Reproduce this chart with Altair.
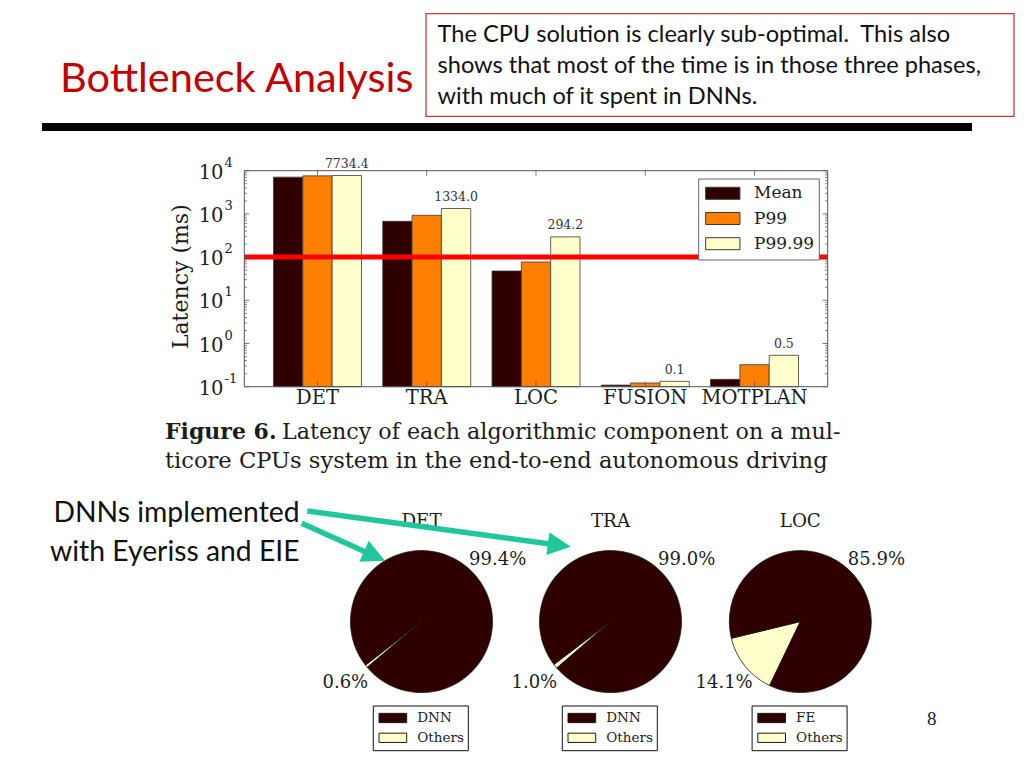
import math
import altair as alt
import pandas as pd

# ------------------------------------------------------------------ data
components = ["DET", "TRA", "LOC", "FUSION", "MOTPLAN"]
series = ["Mean", "P99", "P99.99"]
mean_ms = [7100.0, 674.0, 47.7, 0.109, 0.148]
p99_ms = [7600.0, 929.0, 77.0, 0.122, 0.323]
p9999_ms = [7734.4, 1334.0, 294.2, 0.133, 0.533]
p9999_text = ["7734.4", "1334.0", "294.2", "0.1", "0.5"]
threshold_ms = [100.0]
decade_exponents = [4, 3, 2, 1, 0, -1]
minor_multipliers = [2, 3, 4, 5, 6, 7, 8, 9]
minor_exponents = [-1, 0, 1, 2, 3]

pie_titles = ["DET", "TRA", "LOC"]
pie_main_names = ["DNN", "DNN", "FE"]
pie_main_pct = [99.4, 99.0, 85.9]
pie_other_pct = [0.6, 1.0, 14.1]
pie_other_name = "Others"

slide_title = "Bottleneck Analysis"
box_lines = [
    "The CPU solution is clearly sub-optimal.\u00a0 This also",
    "shows that most of the time is in those three phases,",
    "with much of it spent in DNNs.",
]
note_lines = ["DNNs implemented", "with Eyeriss and EIE"]
caption_bold = "Figure 6."
caption_rest = "Latency of each algorithmic component on a mul-"
caption_line2 = "ticore CPUs system in the end-to-end autonomous driving"
y_title = "Latency (ms)"
page_number = "8"

# ------------------------------------------------------------------ styles / layout
DARK = "#2E0000"
ORANGE = "#FF8000"
PALE = "#FFFFCC"
RED = "#FF0000"
GREEN = "#1FC79A"
INK = "#1c1c1c"
SERIF = "DejaVu Serif"
CAPSERIF = "DejaVu Serif"
SANS = "Lato"

M = 8  # page margin


def px(v):
    return v - M


PLOT_L, PLOT_R, PLOT_T, PLOT_B = 244.3, 827.7, 170.7, 386.7
PIE_CX = [421.5, 610.5, 800.3]
PIE_CY = 621.6
PIE_R = 71
OTHERS_CENTER_DEG = 231.0

one = pd.DataFrame({"k": [0]})

X_BAND = alt.Scale(type="band", domain=components, range=[px(PLOT_L), px(PLOT_R)],
                   paddingInner=0.195, paddingOuter=0.267)
XOFF = alt.Scale(type="band", domain=series, paddingInner=0, paddingOuter=0)
Y_LOG = alt.Scale(type="log", domain=[0.1, 10000], range=[px(PLOT_B), px(PLOT_T)], nice=False)
SERIES_COLOR = alt.Scale(domain=series, range=[DARK, ORANGE, PALE])


def txt(s, x, y, size, font, color=INK, align="left", baseline="alphabetic",
        weight="normal", angle=None):
    kw = dict(align=align, baseline=baseline, fontSize=size, font=font,
              color=color, fontWeight=weight)
    if angle is not None:
        kw["angle"] = angle
    return alt.Chart(pd.DataFrame({"t": [s]})).mark_text(**kw).encode(
        text="t:N", x=alt.value(px(x)), y=alt.value(px(y)))


layers = []

# ------------------------------------------------------------------ slide header
layers.append(txt(slide_title, 60, 92, 41.5, SANS, color="#C00000"))
layers.append(alt.Chart(one).mark_rect(fillOpacity=0, stroke="#C43B3B", strokeWidth=1.3).encode(
    x=alt.value(px(426)), x2=alt.value(px(1014)), y=alt.value(px(13.7)), y2=alt.value(px(116.3))))
for i, line in enumerate(box_lines):
    layers.append(txt(line, 437.5, 42.3 + 31 * i, 23.6, SANS, color="#111"))
layers.append(alt.Chart(one).mark_rule(color="black", strokeWidth=8).encode(
    x=alt.value(px(42)), x2=alt.value(px(972)), y=alt.value(px(127))))

# ------------------------------------------------------------------ bar chart
rows = []
for c, a, b, d in zip(components, mean_ms, p99_ms, p9999_ms):
    for s, v in zip(series, [a, b, d]):
        rows.append({"component": c, "series": s, "ms": v, "base": 0.1})
bars_df = pd.DataFrame(rows)

layers.append(alt.Chart(bars_df).mark_bar(stroke="#3a3a3a", strokeWidth=0.8).encode(
    x=alt.X("component:N", scale=X_BAND, axis=None),
    xOffset=alt.XOffset("series:N", scale=XOFF),
    y=alt.Y("ms:Q", scale=Y_LOG, axis=None),
    y2="base:Q",
    color=alt.Color("series:N", scale=SERIES_COLOR, legend=None),
))

# value labels on top of P99.99 bars
lab_df = pd.DataFrame({"component": components, "series": ["P99.99"] * 5,
                       "ms": p9999_ms, "t": p9999_text})
layers.append(alt.Chart(lab_df).mark_text(font=SERIF, fontSize=12.5, color="#333",
                                          baseline="middle", dy=-11.5).encode(
    x=alt.X("component:N", scale=X_BAND, axis=None),
    xOffset=alt.XOffset("series:N", scale=XOFF),
    y=alt.Y("ms:Q", scale=Y_LOG, axis=None),
    text="t:N",
))

# red real-time threshold line
layers.append(alt.Chart(pd.DataFrame({"ms": threshold_ms})).mark_rule(color=RED, strokeWidth=5).encode(
    y=alt.Y("ms:Q", scale=Y_LOG, axis=None),
    x=alt.value(px(PLOT_L)), x2=alt.value(px(PLOT_R))))

# axis ticks
maj_df = pd.DataFrame({"v": [10.0 ** e for e in decade_exponents],
                       "e": [str(e) for e in decade_exponents]})
min_df = pd.DataFrame({"v": [m * 10.0 ** e for e in minor_exponents for m in minor_multipliers]})
for x0, x1, d in [(PLOT_L, PLOT_L + 5, maj_df), (PLOT_R - 5, PLOT_R, maj_df),
                  (PLOT_L, PLOT_L + 2.5, min_df), (PLOT_R - 2.5, PLOT_R, min_df)]:
    layers.append(alt.Chart(d).mark_rule(color="#555", strokeWidth=0.8).encode(
        y=alt.Y("v:Q", scale=Y_LOG, axis=None), x=alt.value(px(x0)), x2=alt.value(px(x1))))
cat_df = pd.DataFrame({"component": components})
for y0, y1 in [(PLOT_B - 5, PLOT_B), (PLOT_T, PLOT_T + 5)]:
    layers.append(alt.Chart(cat_df).mark_rule(color="#555", strokeWidth=0.8).encode(
        x=alt.X("component:N", scale=X_BAND, axis=None), y=alt.value(px(y0)), y2=alt.value(px(y1))))

# y tick labels 10^e
layers.append(alt.Chart(maj_df).mark_text(text="10", font=SERIF, fontSize=19.5, color=INK,
                                          align="right", baseline="middle", dy=2).encode(
    y=alt.Y("v:Q", scale=Y_LOG, axis=None), x=alt.value(px(223.5))))
layers.append(alt.Chart(maj_df).mark_text(font=SERIF, fontSize=13, color=INK,
                                          align="left", baseline="middle", dy=-8).encode(
    y=alt.Y("v:Q", scale=Y_LOG, axis=None), x=alt.value(px(224.5)), text="e:N"))

# x labels
layers.append(alt.Chart(cat_df).mark_text(font=SERIF, fontSize=19.5, color=INK, baseline="middle").encode(
    x=alt.X("component:N", scale=X_BAND, axis=None), y=alt.value(px(397.5)), text="component:N"))

# y title
layers.append(txt(y_title, 180.7, 276.7, 22, SERIF, align="center", baseline="middle", angle=270))

# plot frame
layers.append(alt.Chart(one).mark_rect(fillOpacity=0, stroke="#555", strokeWidth=1).encode(
    x=alt.value(px(PLOT_L)), x2=alt.value(px(PLOT_R)), y=alt.value(px(PLOT_T)), y2=alt.value(px(PLOT_B))))

# legend of bar chart
layers.append(alt.Chart(one).mark_rect(fill="white", stroke="#666", strokeWidth=1).encode(
    x=alt.value(px(698.7)), x2=alt.value(px(819.3)), y=alt.value(px(179)), y2=alt.value(px(260))))
leg_df = pd.DataFrame({"series": series})
LEG_Y = alt.Scale(type="point", domain=series, range=[px(193.3), px(243.7)], padding=0)
layers.append(alt.Chart(leg_df).mark_point(
    shape="M-1,-0.35L1,-0.35L1,0.35L-1,0.35Z", size=1176, filled=True, opacity=1,
    stroke="#3a3a3a", strokeWidth=1).encode(
    x=alt.value(px(722.8)), y=alt.Y("series:N", scale=LEG_Y, axis=None),
    fill=alt.Fill("series:N", scale=SERIES_COLOR, legend=None)))
layers.append(alt.Chart(leg_df).mark_text(font=SERIF, fontSize=17, color=INK, align="left",
                                          baseline="middle").encode(
    x=alt.value(px(754)), y=alt.Y("series:N", scale=LEG_Y, axis=None), text="series:N"))

# ------------------------------------------------------------------ caption
layers.append(txt(caption_bold, 165, 439, 22, CAPSERIF, weight="bold"))
layers.append(txt(caption_rest, 282, 439, 22.2, CAPSERIF))
layers.append(txt(caption_line2, 165, 468, 22.6, CAPSERIF))

# ------------------------------------------------------------------ pies
for title, main, mp, op, cx in zip(pie_titles, pie_main_names, pie_main_pct, pie_other_pct, PIE_CX):
    df = pd.DataFrame({"part": [pie_other_name, main], "share": [op, mp], "ord": [0, 1],
                       "lab": [f"{op:.1f}%", f"{mp:.1f}%"]})
    start = math.radians(OTHERS_CENTER_DEG - op * 1.8)
    th = alt.Theta("share:Q", stack=True,
                   scale=alt.Scale(domain=[0, 100], range=[start, start + 2 * math.pi]))
    pcol = alt.Scale(domain=[main, pie_other_name], range=[DARK, PALE])
    layers.append(alt.Chart(df).mark_arc(radius=PIE_R, stroke="#1a1a1a", strokeWidth=0.8).encode(
        theta=th, order=alt.Order("ord:Q"),
        color=alt.Color("part:N", scale=pcol, legend=None),
        x=alt.value(px(cx)), y=alt.value(px(PIE_CY))))
    layers.append(alt.Chart(df).mark_text(radius=98, font=SERIF, fontSize=18, color=INK,
                                          baseline="middle").encode(
        theta=th, order=alt.Order("ord:Q"), text="lab:N",
        x=alt.value(px(cx)), y=alt.value(px(PIE_CY))))
    layers.append(txt(title, cx, 521.7, 18.3, SERIF, align="center", baseline="middle"))
    # pie legend
    layers.append(alt.Chart(one).mark_rect(fill="white", stroke="#111", strokeWidth=1).encode(
        x=alt.value(px(cx - 48.2)), x2=alt.value(px(cx + 46.8)),
        y=alt.value(px(706)), y2=alt.value(px(750.7))))
    ldf = pd.DataFrame({"part": [main, pie_other_name]})
    ly = alt.Scale(type="point", domain=[main, pie_other_name], range=[px(718), px(737.8)], padding=0)
    layers.append(alt.Chart(ldf).mark_point(
        shape="M-1,-0.336L1,-0.336L1,0.336L-1,0.336Z", size=767, filled=True, opacity=1,
        stroke="#1a1a1a", strokeWidth=1).encode(
        x=alt.value(px(cx - 28.65)), y=alt.Y("part:N", scale=ly, axis=None),
        fill=alt.Fill("part:N", scale=pcol, legend=None)))
    layers.append(alt.Chart(ldf).mark_text(font=SERIF, fontSize=13.5, color=INK, align="left",
                                           baseline="middle").encode(
        x=alt.value(px(cx - 4.2)), y=alt.Y("part:N", scale=ly, axis=None), text="part:N"))

# ------------------------------------------------------------------ note + arrows
layers.append(txt(note_lines[0], 299.5, 521.7, 28.3, SANS, color="#111", align="right"))
layers.append(txt(note_lines[1], 299.5, 560.7, 28.3, SANS, color="#111", align="right"))

arrows = [  # start, tip
    ((307.3, 511.0), (570.7, 546.7)),
    ((301.7, 523.3), (385.0, 560.7)),
]
HEAD = 11.5
for (sx, sy), (tx, ty) in arrows:
    dx, dy = tx - sx, ty - sy
    L = math.hypot(dx, dy)
    ux, uy = dx / L, dy / L
    hx, hy = tx - HEAD * ux, ty - HEAD * uy
    layers.append(alt.Chart(one).mark_rule(color=GREEN, strokeWidth=5.5, strokeCap="butt").encode(
        x=alt.value(px(sx)), y=alt.value(px(sy)), x2=alt.value(px(hx)), y2=alt.value(px(hy))))
    layers.append(alt.Chart(one).mark_point(
        shape="M1,0L-1,-1L-1,1Z", size=(2 * HEAD) ** 2, filled=True, opacity=1, color=GREEN,
        angle=math.degrees(math.atan2(dy, dx)) % 360).encode(
        x=alt.value(px(hx)), y=alt.value(px(hy))))

# page number
layers.append(txt(page_number, 931.7, 719, 19, "Liberation Serif", align="center", baseline="middle"))

chart = alt.layer(*layers).resolve_scale(
    x="independent", y="independent", color="independent", fill="independent",
    theta="independent", xOffset="independent",
).properties(width=1008, height=745, padding=0, autosize="none", background="white"
).configure_view(stroke=None)

chart.save("out.html", embed_options={"renderer": "svg", "actions": False})
